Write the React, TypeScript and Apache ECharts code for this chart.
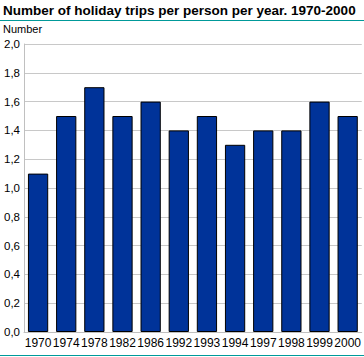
import React, { useEffect, useRef } from "react";
import * as echarts from "echarts";

const years = ["1970", "1974", "1978", "1982", "1986", "1992", "1993", "1994", "1997", "1998", "1999", "2000"];
const trips = [1.1, 1.5, 1.7, 1.5, 1.6, 1.4, 1.5, 1.3, 1.4, 1.4, 1.6, 1.5];
const titleText = "Number of holiday trips per person per year. 1970-2000";
const unitText = "Number";

export default function App() {
  const ref = useRef<HTMLDivElement>(null);
  useEffect(() => {
    const chart = echarts.init(ref.current!, null, { renderer: "svg" });
    chart.setOption({
      animation: false,
      backgroundColor: "#ffffff",
      textStyle: { fontFamily: "Liberation Sans" },
      graphic: [
        {
          type: "text",
          left: 3,
          top: 3,
          style: { text: titleText, font: "bold 13.5px 'Liberation Sans'", fill: "#000" },
        },
        {
          type: "line",
          shape: { x1: 0, y1: 20.5, x2: 364, y2: 20.5 },
          style: { stroke: "#009999", lineWidth: 1 },
        },
        {
          type: "text",
          left: 3,
          top: 23,
          style: { text: unitText, font: "11px 'Liberation Sans'", fill: "#000" },
        },
        {
          type: "line",
          shape: { x1: 0, y1: 355.5, x2: 364, y2: 355.5 },
          style: { stroke: "#009999", lineWidth: 1 },
        },
      ],
      grid: { left: 24, right: 2, top: 44, bottom: 25, containLabel: false },
      xAxis: {
        type: "category",
        data: years,
        axisLine: { show: true, lineStyle: { color: "#c0c0c0" } },
        axisTick: { show: false },
        axisLabel: { color: "#000", fontSize: 12, margin: 5, interval: 0 },
      },
      yAxis: {
        type: "value",
        min: 0,
        max: 2,
        interval: 0.2,
        axisLine: { show: true, lineStyle: { color: "#c0c0c0" } },
        axisTick: { show: false },
        splitLine: { lineStyle: { color: "#c8c8c8" } },
        axisLabel: {
          color: "#000",
          fontSize: 11.5,
          margin: 4,
          formatter: (v: number) => v.toFixed(1).replace(".", ","),
        },
      },
      series: [
        {
          type: "bar",
          data: trips,
          barCategoryGap: "28%",
          itemStyle: { color: "#003399", borderColor: "#000", borderWidth: 1 },
        },
      ],
    });
    return () => chart.dispose();
  }, []);
  return <div ref={ref} style={{ position: "absolute", left: 0, top: 0, width: 364, height: 357 }} />;
}
